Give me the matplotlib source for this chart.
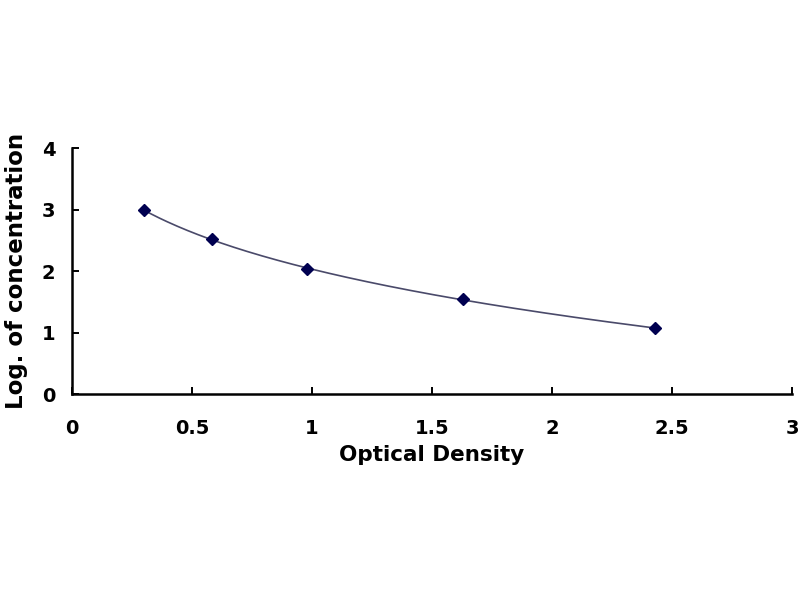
import numpy as np
import matplotlib
matplotlib.use("Agg")
import matplotlib.pyplot as plt

od = [0.30, 0.585, 0.98, 1.63, 2.43]
log_conc = [2.99, 2.52, 2.03, 1.55, 1.07]
x_ticks = [0, 0.5, 1, 1.5, 2, 2.5, 3]
x_tick_labels = ["0", "0.5", "1", "1.5", "2", "2.5", "3"]
y_ticks = [0, 1, 2, 3, 4]

plt.rcParams['font.family'] = ['DejaVu Sans']

fig = plt.figure(figsize=(8, 6), dpi=100)
ax = fig.add_axes([0.09, 0.343, 0.90, 0.41])

# smooth curve through data (quadratic fit in log-space of x)
xs = np.array(od)
ys = np.array(log_conc)
coef = np.polyfit(np.log(xs), ys, 2)
xx = np.linspace(xs.min(), xs.max(), 200)
ax.plot(xx, np.polyval(coef, np.log(xx)), color='#4a4a6a', lw=1.2)
ax.plot(xs, ys, linestyle='none', marker='D', markersize=6, color='#000050')

ax.set_xlim(0, 3)
ax.set_ylim(0, 4)
ax.set_xticks(x_ticks)
ax.set_xticklabels(x_tick_labels)
ax.set_yticks(y_ticks)
for s in ['top', 'right']:
    ax.spines[s].set_visible(False)
for s in ['left', 'bottom']:
    ax.spines[s].set_linewidth(1.8)
ax.tick_params(direction='in', length=5, width=1.4, labelsize=14)
ax.tick_params(axis='x', pad=18)
ax.tick_params(axis='y', pad=12)
for lbl in ax.get_xticklabels() + ax.get_yticklabels():
    lbl.set_fontweight('bold')
ax.set_xlabel('Optical Density', fontsize=15.5, fontweight='bold', labelpad=5)
ax.set_ylabel('Log. of concentration', fontsize=16.5, fontweight='bold', labelpad=10)

fig.savefig('out.png', dpi=100)
